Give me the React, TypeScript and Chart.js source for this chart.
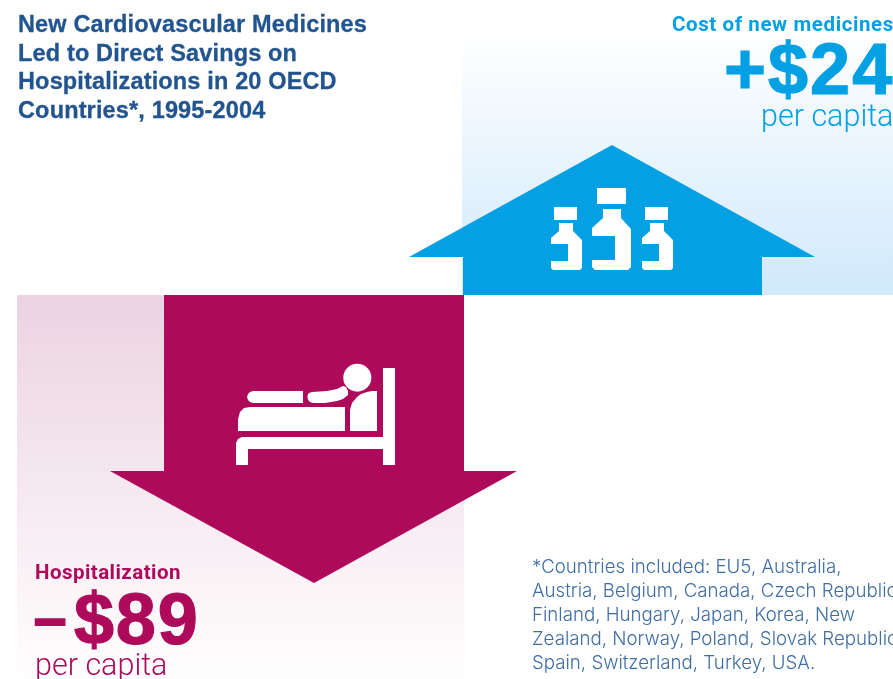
import React, { useEffect, useRef } from "react";
import { Chart, registerables } from "chart.js";

Chart.register(...registerables);

const titleLines = ["New Cardiovascular Medicines", "Led to Direct Savings on", "Hospitalizations in 20 OECD", "Countries*, 1995-2004"];
const footnoteLines = ["*Countries included: EU5, Australia,", "Austria, Belgium, Canada, Czech Republic,", "Finland, Hungary, Japan, Korea, New", "Zealand, Norway, Poland, Slovak Republic,", "Spain, Switzerland, Turkey, USA."];

const BLUE = "#03a0e3";
const MAGENTA = "#ad0a5c";

const bluePanel = [[462, 33], [893, 33], [893, 295], [462, 295]];
const pinkPanel = [[17, 295], [464, 295], [464, 679], [17, 679]];
const upArrow = [[612, 145], [815, 257], [762, 257], [762, 295], [463, 295], [463, 257], [409, 257]];
const downArrow = [[164, 295], [464, 295], [464, 471], [517, 471], [314, 583], [110, 471], [164, 471]];

const leftCap = [[554, 207], [577, 207], [577, 220], [554, 220]];
const leftBottle = [[559, 223], [573, 223], [573, 231], [582, 240], [582, 268], [580, 270], [553, 270], [551, 268], [551, 261], [568, 261], [568, 244], [551, 244], [551, 238], [559, 231]];
const midCap = [[597, 188], [626, 188], [626, 204], [597, 204]];
const midBottle = [[603, 209], [621, 209], [621, 218], [631, 229], [631, 267], [628, 270], [595, 270], [592, 267], [592, 260], [615, 260], [615, 236], [592, 236], [592, 228], [603, 218]];
const rightCap = [[645, 207], [668, 207], [668, 220], [645, 220]];
const rightBottle = [[650, 223], [664, 223], [664, 231], [673, 240], [673, 268], [671, 270], [644, 270], [642, 268], [642, 261], [659, 261], [659, 244], [642, 244], [642, 238], [650, 231]];

const bedFrame = [[236, 465], [248, 465], [248, 449], [383, 449], [383, 465], [395, 465], [395, 368], [383, 368], [383, 437], [242, 437], [238, 439], [236, 443]];
const blanket = [[238, 431], [345, 431], [345, 407], [250, 407], [244, 408], [240, 412], [238, 419]];
const legs = [[303, 391], [253, 391], [250, 392], [248, 394], [247, 397], [248, 400], [250, 402], [253, 403], [303, 403]];
const arm = [[312, 392], [327, 391], [337, 389], [343, 386], [346, 387], [348, 391], [348, 395], [343, 399], [337, 401], [325, 403], [313, 403], [310, 402], [308, 400], [307.5, 397], [308, 394], [309, 393]];
const torso = [[350, 431], [377, 431], [377, 391], [372, 391], [367, 392], [361, 394], [357, 397], [352, 403], [350, 410]];
const head = [[357.3, 377.7]];

const toPoints = (a: number[][]) => a.map(([x, y]) => ({ x, y }));

const shape = (label: string, data: number[][], color: any) => ({
  label,
  data: toPoints(data),
  showLine: true,
  fill: "shape",
  backgroundColor: color,
  borderWidth: 0,
  pointRadius: 0,
  tension: 0,
});

const Text = ({ x, y, style, children }: any) => (
  <div style={{ position: "absolute", left: x, top: y, whiteSpace: "nowrap", ...style }}>{children}</div>
);

export default function App() {
  const ref = useRef<HTMLCanvasElement>(null);
  useEffect(() => {
    const layers: any[] = [
      shape("Cost panel", bluePanel, "#e8f5fd"),
      shape("Hospitalization panel", pinkPanel, "#f5e9f0"),
      shape("Cost of new medicines", upArrow, BLUE),
      shape("Hospitalization", downArrow, MAGENTA),
      shape("Left cap", leftCap, "#fff"),
      shape("Left bottle", leftBottle, "#fff"),
      shape("Middle cap", midCap, "#fff"),
      shape("Middle bottle", midBottle, "#fff"),
      shape("Right cap", rightCap, "#fff"),
      shape("Right bottle", rightBottle, "#fff"),
      shape("Bed frame", bedFrame, "#fff"),
      shape("Blanket", blanket, "#fff"),
      shape("Legs", legs, "#fff"),
      shape("Arm", arm, "#fff"),
      shape("Torso", torso, "#fff"),
      { label: "Head", data: toPoints(head), showLine: false, pointRadius: 14, pointBorderWidth: 0, pointBackgroundColor: "#fff" },
    ];
    const chart = new Chart(ref.current!, {
      type: "scatter",
      data: { datasets: layers.map((d, i) => ({ ...d, order: layers.length - i })) },
      options: {
        responsive: false,
        animation: false,
        layout: { padding: 0, autoPadding: false },
        plugins: { legend: { display: false }, tooltip: { enabled: false } },
        scales: {
          x: { type: "linear", min: 0, max: 893, display: false },
          y: { type: "linear", min: 0, max: 679, reverse: true, display: false },
        },
      },
    } as any);
    const y = chart.scales.y;
    const gradient = (top: number, bottom: number, from: string, to: string) => {
      const g = chart.ctx.createLinearGradient(0, y.getPixelForValue(top), 0, y.getPixelForValue(bottom));
      g.addColorStop(0, from);
      g.addColorStop(1, to);
      return g;
    };
    (chart.data.datasets[0] as any).backgroundColor = gradient(33, 295, "#ffffff", "#d0e9fb");
    (chart.data.datasets[1] as any).backgroundColor = gradient(295, 679, "#ebd3e1", "#fffefe");
    chart.update("none");
    return () => chart.destroy();
  }, []);

  const roboto = "Roboto, sans-serif";
  const helv = '"Liberation Sans", sans-serif';
  return (
    <div style={{ position: "absolute", left: 0, top: 0, width: 893, height: 679, overflow: "hidden", background: "#fff" }}>
      <canvas ref={ref} width={893} height={679} style={{ position: "absolute", left: 0, top: 0, display: "block" }} />
      <Text x={18} y={10} style={{ font: `700 23.5px/28.7px ${helv}`, letterSpacing: 0.15, WebkitTextStroke: "0.3px #22558f", color: "#22558f" }}>
        {titleLines.map((t) => <div key={t}>{t}</div>)}
      </Text>
      <Text x={672} y={13} style={{ font: `700 20.5px/22px ${roboto}`, letterSpacing: 0.6, color: BLUE }}>Cost of new medicines</Text>
      <Text x={724} y={25.5} style={{ font: `700 72px/87px ${helv}`, letterSpacing: 2, WebkitTextStroke: `1.2px ${BLUE}`, color: BLUE }}>+$24</Text>
      <Text x={761} y={98} style={{ font: `300 30.5px/36px ${roboto}`, color: BLUE }}>per capita</Text>
      <Text x={35} y={561} style={{ font: `700 20.5px/22px ${roboto}`, letterSpacing: 0.45, color: MAGENTA }}>Hospitalization</Text>
      <Text x={34} y={576} style={{ font: `700 72px/87px ${helv}`, letterSpacing: 1.8, WebkitTextStroke: `1.2px ${MAGENTA}`, color: MAGENTA }}>
        <span style={{ display: "inline-block", width: 40, fontSize: 58, position: "relative", top: -6, WebkitTextStroke: `2px ${MAGENTA}` }}>–</span>$89
      </Text>
      <Text x={35} y={647} style={{ font: `300 30.5px/36px ${roboto}`, color: MAGENTA }}>per capita</Text>
      <Text x={532} y={555} style={{ font: `300 18.7px/24px Inter, sans-serif`, color: "#3f6ea5" }}>
        {footnoteLines.map((t) => <div key={t}>{t}</div>)}
      </Text>
    </div>
  );
}
